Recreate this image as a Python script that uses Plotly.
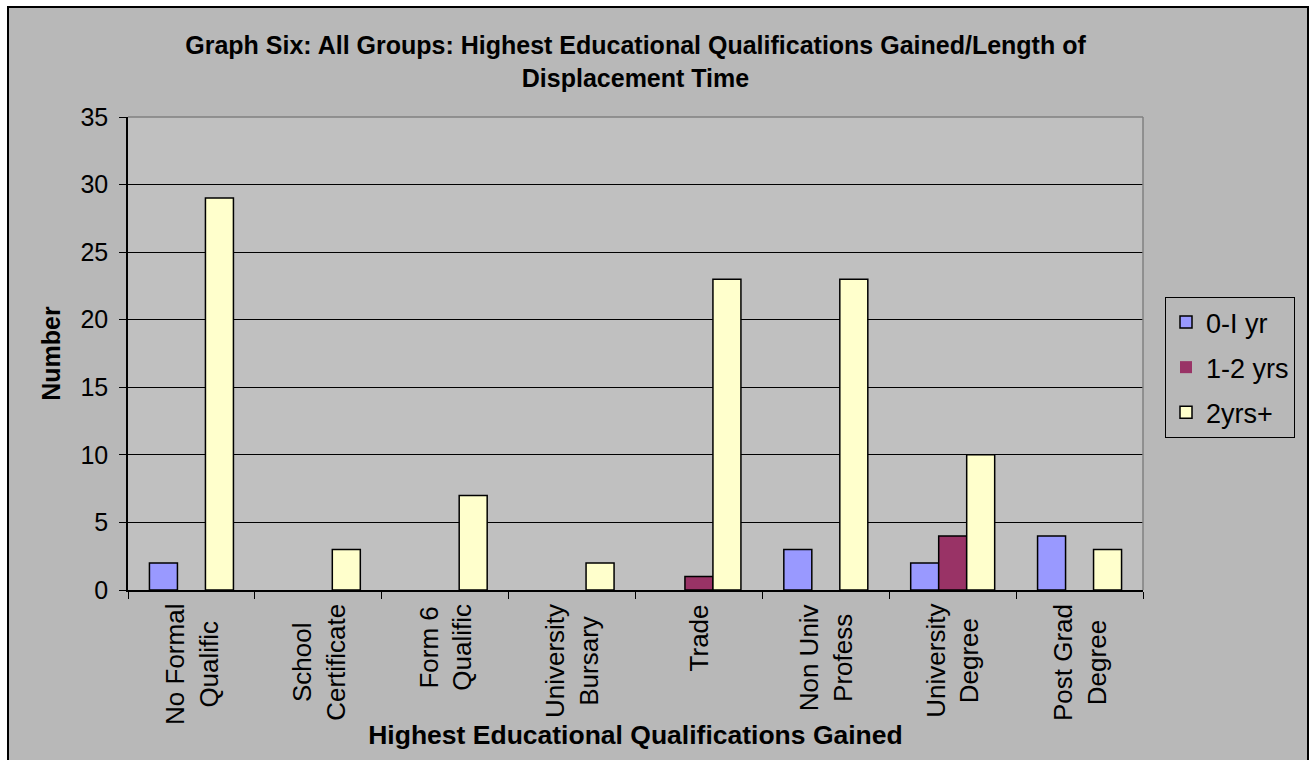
import plotly.graph_objects as go

# Qualification categories (two-line labels)
categories = [
    "No Formal<br>Qualific",
    "School<br>Certificate",
    "Form 6<br>Qualific",
    "University<br>Bursary",
    "Trade",
    "Non Univ<br>Profess",
    "University<br>Degree",
    "Post Grad<br>Degree",
]

# Number of people per category, by length of displacement time
yr_0_1 = [2, 0, 0, 0, 0, 3, 2, 4]
yrs_1_2 = [0, 0, 0, 0, 1, 0, 4, 0]
yrs_2_plus = [29, 3, 7, 2, 23, 23, 10, 3]

series_names = ["0-I yr", "1-2 yrs", "2yrs+"]
series_values = [yr_0_1, yrs_1_2, yrs_2_plus]
series_colors = ["#9999FF", "#993366", "#FFFFCC"]

y_ticks = [0, 5, 10, 15, 20, 25, 30, 35]

FONT = "Liberation Sans, Arial, sans-serif"
CHART_BG = "#B8B8B8"
PLOT_BG = "#C0C0C0"

W, H = 1316, 760
L, R, T, B = 128, 173, 117, 170
pw, ph = W - L - R, H - T - B


def px_x(x):
    return (x - L) / pw


def px_y(y):
    return (H - B - y) / ph


fig = go.Figure()
for i, (name, vals, col) in enumerate(zip(series_names, series_values, series_colors)):
    fig.add_trace(go.Bar(
        name=name, x=categories, y=vals,
        # empty bars get no outline
        marker=dict(color=col, line=dict(color="black", width=[1.5 if v else 0 for v in vals])),
        legendgroup=f"g{i}",
    ))

# Category labels under the axis, rotated with centred lines
annotations = []
for c in categories:
    annotations.append(dict(
        x=c, xref="x", y=0, yref="paper", yanchor="top", xanchor="center",
        yshift=-12, text=c, textangle=-90, align="center", showarrow=False,
        font=dict(family=FONT, size=26, color="black"),
    ))

shapes = [
    # white margin outside the chart frame
    dict(type="rect", xref="paper", yref="paper", x0=px_x(0), x1=px_x(8), y0=px_y(W), y1=px_y(0),
         fillcolor="white", line=dict(width=0), layer="below"),
    dict(type="rect", xref="paper", yref="paper", x0=px_x(1308), x1=px_x(1316), y0=px_y(W), y1=px_y(0),
         fillcolor="white", line=dict(width=0), layer="below"),
    dict(type="rect", xref="paper", yref="paper", x0=px_x(0), x1=px_x(1316), y0=px_y(7), y1=px_y(0),
         fillcolor="white", line=dict(width=0), layer="below"),
    # chart frame
    dict(type="rect", xref="paper", yref="paper", x0=px_x(8), x1=px_x(1308), y0=px_y(770), y1=px_y(7),
         line=dict(color="black", width=2), layer="above"),
    # plot area border (top and right)
    dict(type="line", xref="paper", yref="paper", x0=0, x1=1, y0=1, y1=1,
         line=dict(color="#808080", width=1.5), layer="above"),
    dict(type="line", xref="paper", yref="paper", x0=1, x1=1, y0=0, y1=1,
         line=dict(color="#808080", width=1.5), layer="above"),
]

fig.update_layout(
    width=W, height=H,
    margin=dict(l=L, r=R, t=T, b=B, autoexpand=False),
    paper_bgcolor=CHART_BG, plot_bgcolor=PLOT_BG,
    barmode="group", bargap=0.338, bargroupgap=0,
    font=dict(family=FONT, color="black", size=25),
    title=dict(
        text="<b>Graph Six: All Groups: Highest Educational Qualifications Gained/Length of<br>Displacement Time</b>",
        x=0.5, xref="paper", xanchor="center",
        y=1 - 54 / H, yref="container", yanchor="middle",
        font=dict(family=FONT, size=25, color="black"),
    ),
    xaxis=dict(
        type="category", showticklabels=False, ticks="outside", ticklen=7,
        tickcolor="black", tickwidth=1, tickson="boundaries",
        showline=True, linecolor="black", linewidth=1.5, showgrid=False, zeroline=False,
        title=dict(text="<b>Highest Educational Qualifications Gained</b>", standoff=135,
                   font=dict(family=FONT, size=26.5)),
        automargin=False,
    ),
    yaxis=dict(
        range=[0, 35], tickvals=y_ticks, ticks="outside", ticklen=7,
        tickcolor="black", tickwidth=1, ticklabelstandoff=6,
        tickfont=dict(family=FONT, size=25),
        showline=True, linecolor="black", linewidth=1.5,
        showgrid=True, gridcolor="black", gridwidth=1, zeroline=False,
        title=dict(text="<b>Number</b>", standoff=13, font=dict(family=FONT, size=25)),
        automargin=False,
    ),
    legend=dict(
        x=px_x(1165), xanchor="left", y=px_y(297), yanchor="top",
        bgcolor=CHART_BG, bordercolor="black", borderwidth=1,
        font=dict(family=FONT, size=27), tracegroupgap=7,
        traceorder="grouped",
    ),
    annotations=annotations,
    shapes=shapes,
)

fig.write_html("out.html")
